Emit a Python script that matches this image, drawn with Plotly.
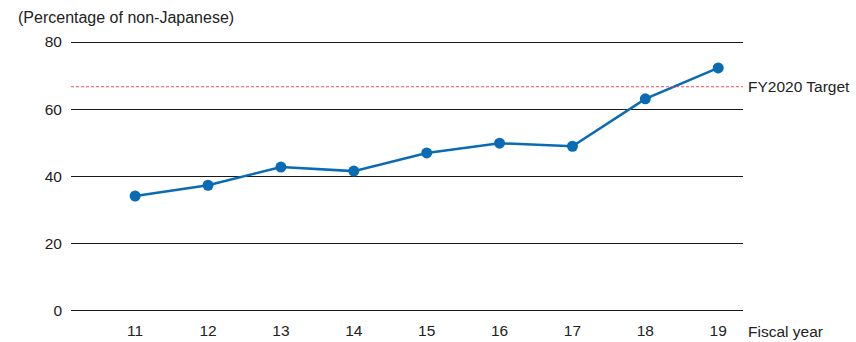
import plotly.graph_objects as go

# data
fiscal_years = [11, 12, 13, 14, 15, 16, 17, 18, 19]
pct_non_japanese = [34.2, 37.4, 42.8, 41.6, 47.0, 49.9, 49.0, 63.1, 72.3]
target_fy2020 = 66.7
y_ticks = [0, 20, 40, 60, 80]

font = "Liberation Sans, Arial, sans-serif"
txt = "#222222"
blue = "#0a6bb5"

fig = go.Figure()

fig.add_trace(go.Scatter(
    x=fiscal_years, y=pct_non_japanese, mode="lines+markers",
    line={"color": blue, "width": 2.5},
    marker={"color": blue, "size": 11},
    showlegend=False, cliponaxis=False,
))

# target line
fig.add_shape(type="line", xref="paper", yref="y", x0=0, x1=1,
              y0=target_fy2020, y1=target_fy2020,
              line={"color": "#e8505b", "width": 1, "dash": "3px,2px"})

fig.add_annotation(xref="paper", yref="y", x=1, y=target_fy2020, xanchor="left",
                   xshift=3, text="FY2020 Target", showarrow=False,
                   font={"size": 15.5, "color": txt, "family": font})
fig.add_annotation(xref="paper", yref="y", x=1, y=0, xanchor="left", yanchor="middle",
                   xshift=3, yshift=-21, text="Fiscal year", showarrow=False,
                   font={"size": 15.5, "color": txt, "family": font})
fig.add_annotation(xref="paper", yref="y", x=0, y=80, xanchor="left", yanchor="middle",
                   xshift=-55, yshift=25, text="(Percentage of non-Japanese)", showarrow=False,
                   font={"size": 16, "color": txt, "family": font})

fig.update_layout(
    width=856, height=342,
    margin={"l": 71, "r": 113, "t": 40, "b": 29},
    paper_bgcolor="white", plot_bgcolor="white",
    font={"family": font, "size": 15.5, "color": txt},
)
fig.update_xaxes(range=[10.12, 19.34], tickvals=fiscal_years, showgrid=False,
                 zeroline=False, showline=False, ticks="", ticklabelstandoff=6,
                 automargin=False)
fig.update_yaxes(range=[-0.6, 80.6], tickvals=y_ticks, showgrid=True, gridcolor="#1a1a1a",
                 gridwidth=1, zeroline=False, showline=False, ticks="",
                 ticklabelstandoff=8, automargin=False)

# page has a default body margin; drop it so the figure sits at 0,0
fig.write_html("out.html", config={"displayModeBar": False},
               post_script="document.body.style.margin='0';")
